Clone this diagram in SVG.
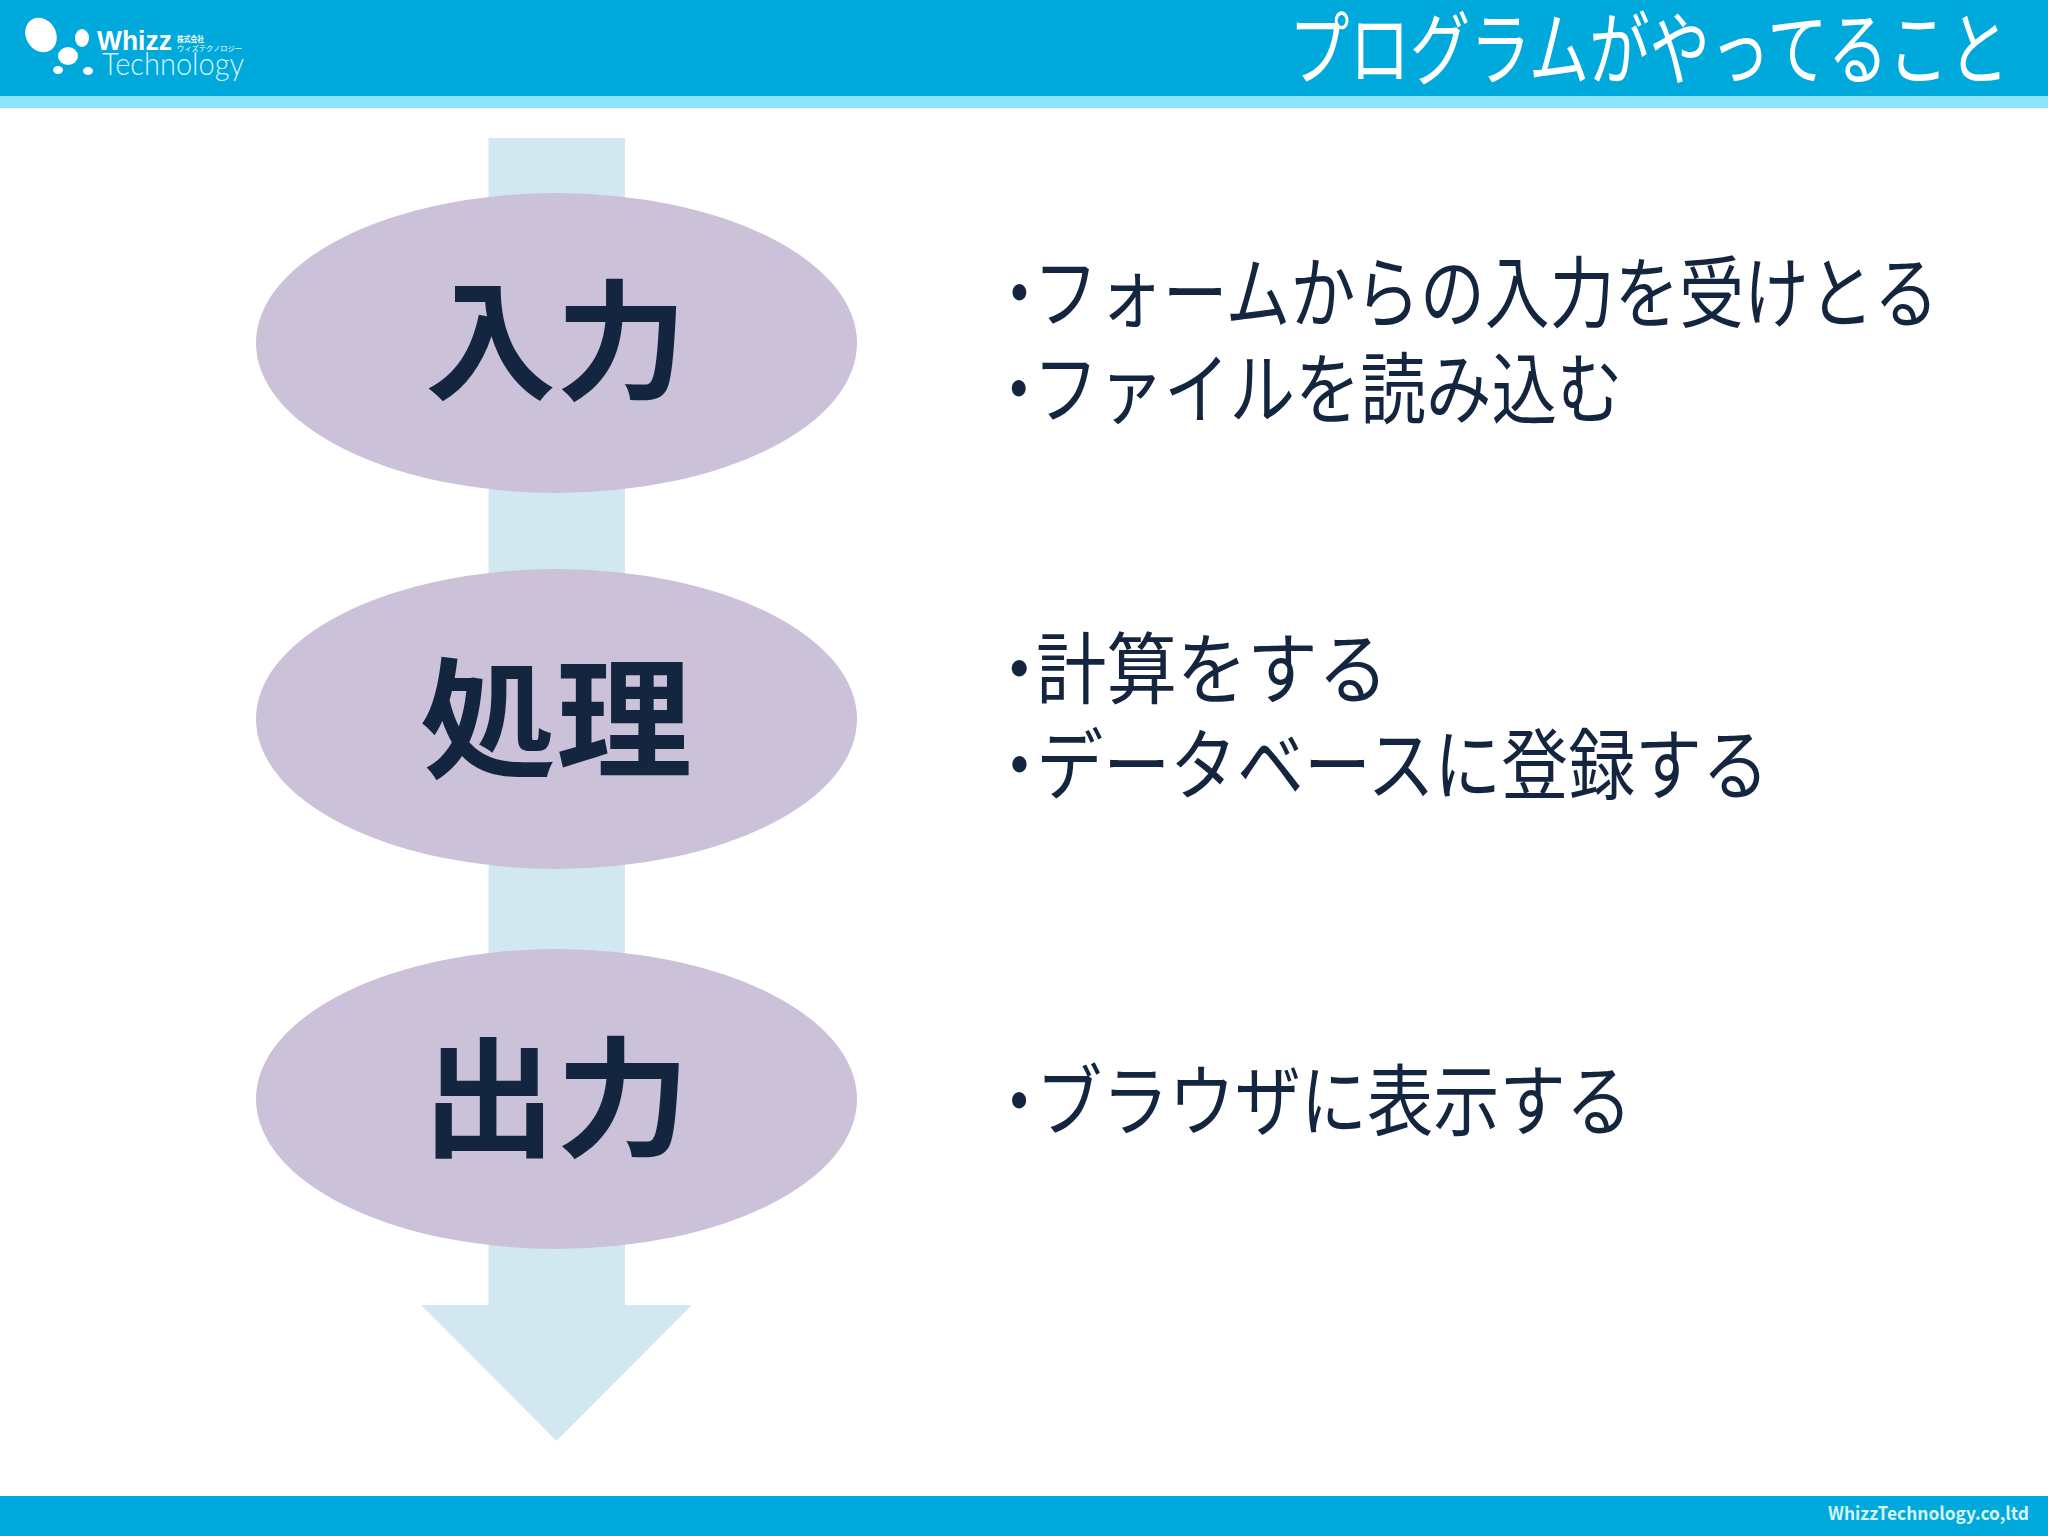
<svg xmlns="http://www.w3.org/2000/svg" width="2048" height="1536" viewBox="0 0 2048 1536">
<style>
text{font-family:"Noto Sans CJK JP","Noto Sans",sans-serif}
.b{font-size:78px;fill:#14263f}
.h{font-size:130px;font-weight:700;fill:#14263f;text-anchor:middle}
.n{fill:#cbc1d9}
.w{fill:#fff}
.lat{font-family:"Liberation Sans",sans-serif}
.thin{font-family:"Lato","Open Sans",sans-serif;font-weight:300}
</style>
<rect width="2048" height="1536" fill="#fff"/>
<g id="header">
<rect width="2048" height="96" fill="#00a9dc"/>
<rect y="96" width="2048" height="12" fill="#8fe3fb"/>
<g id="logo">
<ellipse class="w" cx="41" cy="35" rx="15" ry="18" transform="rotate(-30 41 35)"/>
<ellipse class="w" cx="82" cy="38" rx="7" ry="9"/>
<ellipse class="w" cx="68" cy="56" rx="10" ry="9"/>
<ellipse class="w" cx="58" cy="70" rx="5" ry="4"/>
<ellipse class="w" cx="88" cy="71" rx="5" ry="4"/>
<text class="lat" font-size="27" font-weight="700" fill="#fff" transform="translate(97 50) scale(.98 1)">Whizz</text>
<text font-size="8" font-weight="700" fill="#fff" transform="translate(177 42) scale(.84 1)">株式会社</text>
<text font-size="7" fill="#fff" transform="translate(177 51) scale(1.04 1)">ウィズテクノロジー</text>
<text class="thin" x="102" y="75" font-size="31" fill="#d8f3fb" textLength="142" lengthAdjust="spacingAndGlyphs">Technology</text>
</g>
<text id="title" font-size="80" fill="#fff" transform="translate(1289 78) scale(.755 1)">プログラムがやってること</text>
</g>
<g id="connectors">
<path id="flow-arrow" d="M488.500 138H625V1305H692L556.500 1441L421 1305H488.500Z" fill="#d2e8f1"/>
</g>
<g id="node-input">
<ellipse class="n" cx="556.500" cy="343" rx="300.500" ry="150"/>
<text class="h" transform="translate(556 389) scale(1.008 1)">入力</text>
<text class="b" dx="0 -22.500" transform="translate(987 322) scale(.831 1)">・フォームからの入力を受けとる</text>
<text class="b" dx="0 -22" transform="translate(986 418) scale(.84 1)">・ファイルを読み込む</text>
</g>
<g id="node-process">
<ellipse class="n" cx="556.500" cy="719" rx="300.500" ry="150"/>
<text class="h" transform="translate(556 767) scale(1.046 1)">処理</text>
<text class="b" dx="0 -20.400" transform="translate(984 698) scale(.903 1)">・計算をする</text>
<text class="b" dx="0 -19.400" transform="translate(986 794) scale(.858 1)">・データベースに登録する</text>
</g>
<g id="node-output">
<ellipse class="n" cx="556.500" cy="1099" rx="300.500" ry="150"/>
<text class="h" transform="translate(556 1146) scale(1.03 1)">出力</text>
<text class="b" dx="0 -19.100" transform="translate(986 1130) scale(.849 1)">・ブラウザに表示する</text>
</g>
<g id="footer">
<rect y="1496" width="2048" height="40" fill="#00a9dc"/>
<text x="1828" y="1520" font-size="18" font-weight="700" fill="#d5f3fb" textLength="201" lengthAdjust="spacingAndGlyphs">WhizzTechnology.co,ltd</text>
</g>
</svg>
